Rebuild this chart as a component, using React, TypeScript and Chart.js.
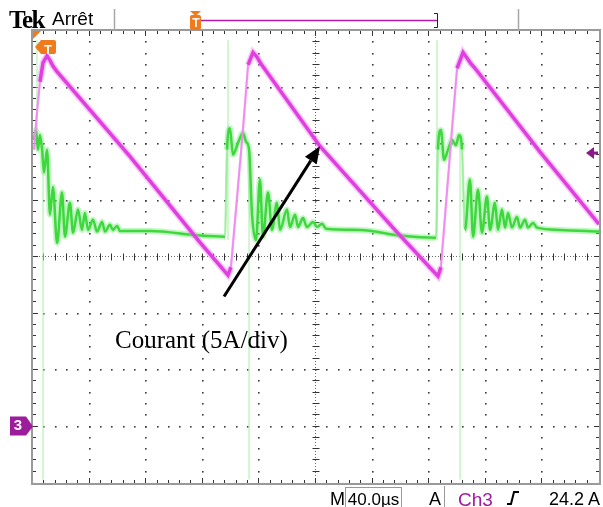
import React, { useEffect, useRef } from "react";
import { Chart, registerables } from "chart.js";
Chart.register(...registerables);

// ---- Scope settings ----
const timePerDivUs = 40;
const xDivisions = 10;
const yDivisions = 8;
const ampsPerDiv = 5;
const ch3GroundDiv = -3;
const triggerLevelA = 24.2;

// ---- Ch3 : current (A) ----
const currentTimeUs = [0.7, 2.8, 4.9, 7.1, 9.9, 12.0, 14.1, 17.0, 68.5, 118.0, 137.8, 139.9, 148.4, 152.0, 155.5, 158.3, 161.1, 164.0, 202.8, 257.2, 286.2, 288.3, 296.1, 299.7, 303.9, 306.7, 309.5, 312.4, 358.3, 400];
const currentAmps = [24.5, 27.8, 30.5, 32.2, 32.8, 32.4, 31.9, 31.4, 23.9, 16.3, 13.4, 14.1, 26.3, 32.0, 33.1, 32.7, 32.1, 31.6, 24.8, 17.2, 13.3, 14.1, 26.3, 31.7, 33.1, 32.6, 32.1, 31.7, 24.3, 17.9];

// ---- Green trace : voltage (divisions) ----
const voltageTimeUs = [0.7, 2.1, 3.5, 4.9, 6.4, 7.8, 9.9, 12.0, 14.1, 17.0, 20.5, 22.6, 26.1, 28.3, 31.8, 34.6, 36.7, 38.9, 42.4, 45.2, 48.8, 50.9, 54.4, 56.5, 59.4, 61.5, 82.7, 118.0, 135.7,
  137.1, 139.2, 141.3, 144.9, 148.4, 150.5, 152.7, 154.8, 157.6, 160.4, 162.5, 166.1, 168.9, 172.4, 174.6, 179.5, 181.6, 185.2, 187.3, 190.8, 193.6, 197.9, 200.7, 204.2, 207.1, 231.1, 259.4, 284.8,
  286.2, 288.3, 290.5, 293.3, 296.1, 298.9, 301.1, 303.2, 305.3, 308.8, 311.0, 314.5, 317.3, 320.8, 323.0, 326.5, 328.6, 331.4, 333.6, 335.7, 338.5, 342.0, 344.2, 347.7, 349.8, 353.4, 356.2, 372.4, 400];
const voltageDiv = [2.07, 2.25, 1.90, 2.16, 1.90, 1.50, 1.90, 0.75, 1.24, 0.25, 1.14, 0.36, 0.96, 0.43, 0.84, 0.48, 0.78, 0.48, 0.66, 0.45, 0.62, 0.45, 0.57, 0.48, 0.55, 0.46, 0.46, 0.38, 0.36,
  1.90, 2.28, 1.81, 2.02, 2.20, 2.04, 1.90, 0.75, 0.30, 1.37, 0.36, 1.14, 0.48, 0.96, 0.48, 0.84, 0.53, 0.75, 0.53, 0.69, 0.53, 0.62, 0.53, 0.59, 0.50, 0.48, 0.38, 0.34,
  1.90, 2.25, 1.72, 1.90, 2.07, 1.98, 2.16, 1.90, 0.48, 1.37, 0.36, 1.19, 0.43, 1.07, 0.48, 0.96, 0.48, 0.84, 0.52, 0.78, 0.52, 0.71, 0.52, 0.66, 0.52, 0.60, 0.52, 0.48, 0.45];

// faint switching spikes (null = break)
const spikeTimeUs = [2.8, 2.8, 2.8, 7.1, 7.1, 7.1, 137.8, 137.8, 137.8, 152.7, 152.7, 152.7, 285.5, 285.5, 285.5, 301.8, 301.8];
const spikeDiv = [3.84, 1.9, null, 1.98, -3.94, null, 3.84, 0.3, null, 1.9, -3.94, null, 3.84, 0.3, null, 1.9, -3.94];

// annotation arrow (tail -> tip) in data units (µs, A)
const arrowTimeUs = [135, 202.8];
const arrowAmps = [11.5, 24.8];

const ORANGE = "#f07a1c";
const PURPLE = "#9c1c9c";

const zip = (xs: number[], ys: (number | null)[]) => xs.map((x, i) => ({ x, y: ys[i] }));

const scopePlugin = {
  id: "scope",
  beforeDatasetsDraw(chart: any) {
    const { ctx, chartArea: a, scales } = chart;
    const x = scales.x;
    const yd = scales.yd;
    ctx.save();
    const minors = yDivisions * 5;
    const xMinors = xDivisions * 5;
    ctx.fillStyle = "#3a3a3a";
    for (let i = 1; i < xDivisions; i++) {
      if (i === xDivisions / 2) continue;
      const px = Math.round(x.getPixelForValue(i * timePerDivUs));
      for (let k = 1; k < minors; k++) {
        const py = Math.round(yd.getPixelForValue(-yDivisions / 2 + k * 0.2));
        ctx.fillRect(px - 1, py - 1, 1.6, 1.6);
      }
    }
    for (let j = 1; j < yDivisions; j++) {
      if (j === yDivisions / 2) continue;
      const py = Math.round(yd.getPixelForValue(-yDivisions / 2 + j));
      for (let k = 1; k < xMinors; k++) {
        const px = Math.round(x.getPixelForValue(k * timePerDivUs / 5));
        ctx.fillRect(px - 1, py - 1, 1.6, 1.6);
      }
    }
    const cx = Math.round(x.getPixelForValue((xDivisions / 2) * timePerDivUs)) - 0.5;
    const cy = Math.round(yd.getPixelForValue(0)) - 0.5;
    ctx.strokeStyle = "#6a6a6a";
    ctx.lineWidth = 1;
    ctx.setLineDash([1, 2]);
    ctx.beginPath();
    ctx.moveTo(cx, a.top); ctx.lineTo(cx, a.bottom);
    ctx.moveTo(a.left, cy); ctx.lineTo(a.right, cy);
    ctx.stroke();
    ctx.setLineDash([]);
    ctx.strokeStyle = "#333";
    ctx.beginPath();
    for (let k = 1; k < minors; k++) {
      const py = Math.round(yd.getPixelForValue(-yDivisions / 2 + k * 0.2)) - 0.5;
      ctx.moveTo(cx - 3, py); ctx.lineTo(cx + 4, py);
      const len = k % 5 === 0 ? 5 : 3;
      ctx.moveTo(a.left, py); ctx.lineTo(a.left + len, py);
      ctx.moveTo(a.right, py); ctx.lineTo(a.right - len, py);
    }
    for (let k = 1; k < xMinors; k++) {
      const px = Math.round(x.getPixelForValue(k * timePerDivUs / 5)) - 0.5;
      ctx.moveTo(px, cy - 3); ctx.lineTo(px, cy + 4);
      const len = k % 5 === 0 ? 5 : 3;
      ctx.moveTo(px, a.top); ctx.lineTo(px, a.top + len);
      ctx.moveTo(px, a.bottom); ctx.lineTo(px, a.bottom - len);
    }
    ctx.stroke();
    ctx.strokeStyle = "#9a9a9a";
    ctx.lineWidth = 2;
    ctx.strokeRect(a.left - 1, a.top - 1, a.right - a.left + 2, a.bottom - a.top + 2);
    ctx.restore();
  },
  afterDatasetsDraw(chart: any) {
    const { ctx, chartArea: a, scales } = chart;
    const x = scales.x;
    const ya = scales.ya;
    ctx.save();
    const x0 = x.getPixelForValue(arrowTimeUs[0]);
    const y0 = ya.getPixelForValue(arrowAmps[0]);
    const x1 = x.getPixelForValue(arrowTimeUs[1]);
    const y1 = ya.getPixelForValue(arrowAmps[1]);
    const ang = Math.atan2(y1 - y0, x1 - x0);
    const hl = 17, hw = 7;
    const bx = x1 - hl * Math.cos(ang), by = y1 - hl * Math.sin(ang);
    ctx.strokeStyle = "#000";
    ctx.fillStyle = "#000";
    ctx.lineWidth = 3;
    ctx.beginPath();
    ctx.moveTo(x0, y0); ctx.lineTo(bx, by); ctx.stroke();
    ctx.beginPath();
    ctx.moveTo(x1, y1);
    ctx.lineTo(bx + hw * Math.sin(ang), by - hw * Math.cos(ang));
    ctx.lineTo(bx - hw * Math.sin(ang), by + hw * Math.cos(ang));
    ctx.closePath(); ctx.fill();

    ctx.fillStyle = ORANGE;
    ctx.beginPath();
    ctx.moveTo(a.left, a.top); ctx.lineTo(a.left + 8, a.top); ctx.lineTo(a.left, a.top + 8); ctx.closePath(); ctx.fill();
    ctx.beginPath();
    ctx.moveTo(a.left + 2, a.top + 16);
    ctx.lineTo(a.left + 8, a.top + 9);
    ctx.lineTo(a.left + 21, a.top + 9);
    ctx.quadraticCurveTo(a.left + 23, a.top + 9, a.left + 23, a.top + 11);
    ctx.lineTo(a.left + 23, a.top + 21);
    ctx.quadraticCurveTo(a.left + 23, a.top + 23, a.left + 21, a.top + 23);
    ctx.lineTo(a.left + 8, a.top + 23);
    ctx.closePath(); ctx.fill();

    const gy = ya.getPixelForValue(0);
    ctx.fillStyle = PURPLE;
    ctx.beginPath();
    ctx.moveTo(10, gy - 10); ctx.lineTo(26, gy - 10); ctx.lineTo(a.left, gy); ctx.lineTo(26, gy + 9); ctx.lineTo(10, gy + 9); ctx.closePath(); ctx.fill();
    const ty = ya.getPixelForValue(triggerLevelA);
    ctx.fillStyle = "#8a1a8a";
    ctx.beginPath();
    ctx.moveTo(a.right - 13, ty); ctx.lineTo(a.right - 5, ty - 6); ctx.lineTo(a.right - 5, ty + 6); ctx.closePath(); ctx.fill();
    ctx.fillRect(a.right - 6, ty - 1.5, 5, 3);

    ctx.strokeStyle = "#a8a8a8";
    ctx.lineWidth = 1.5;
    ctx.beginPath();
    ctx.moveTo(114.5, 9); ctx.lineTo(114.5, a.top);
    ctx.moveTo(518.5, 9); ctx.lineTo(518.5, a.top);
    ctx.stroke();
    ctx.strokeStyle = "#b01ab0";
    ctx.lineWidth = 1.5;
    ctx.beginPath(); ctx.moveTo(198, 20.5); ctx.lineTo(437, 20.5); ctx.stroke();
    ctx.strokeStyle = "#222";
    ctx.lineWidth = 1;
    ctx.beginPath();
    ctx.moveTo(434, 13.5); ctx.lineTo(437.5, 13.5); ctx.lineTo(437.5, 27.5); ctx.lineTo(434, 27.5);
    ctx.stroke();
    ctx.fillStyle = ORANGE;
    ctx.beginPath();
    ctx.moveTo(190, 11); ctx.lineTo(201, 11); ctx.lineTo(195.5, 16); ctx.closePath(); ctx.fill();
    ctx.beginPath();
    ctx.moveTo(192, 15); ctx.lineTo(199, 15); ctx.quadraticCurveTo(201, 15, 201, 17); ctx.lineTo(201, 28);
    ctx.quadraticCurveTo(201, 30, 199, 30); ctx.lineTo(192, 30); ctx.quadraticCurveTo(190, 30, 190, 28); ctx.lineTo(190, 17);
    ctx.quadraticCurveTo(190, 15, 192, 15); ctx.closePath(); ctx.fill();
    ctx.restore();
  },
};

function steep(c: any, lim: number) {
  const dy = Math.abs(c.p1.y - c.p0.y);
  const dx = Math.abs(c.p1.x - c.p0.x);
  return dy > lim && dy > 3 * dx;
}

export default function App() {
  const ref = useRef<HTMLCanvasElement | null>(null);
  useEffect(() => {
    document.body.style.margin = "0";
    const cur = zip(currentTimeUs, currentAmps);
    const volt = zip(voltageTimeUs, voltageDiv);
    const spikes = zip(spikeTimeUs, spikeDiv);
    const chart = new Chart(ref.current as HTMLCanvasElement, {
      type: "line",
      data: {
        datasets: [
          {
            data: cur, yAxisID: "ya", borderColor: "#e03fe0", borderWidth: 3.5, pointRadius: 0, tension: 0,
            segment: {
              borderColor: (c: any) => (steep(c, 25) ? "#f08cf0" : "#e03fe0"),
              borderWidth: (c: any) => (steep(c, 25) ? 1.8 : 3.5),
            },
          },
          {
            data: cur, yAxisID: "ya", borderColor: "rgba(240,130,240,0.45)", borderWidth: 6.5, pointRadius: 0, tension: 0,
            segment: { borderWidth: (c: any) => (steep(c, 25) ? 2.5 : 6.5) },
          },
          {
            data: volt, yAxisID: "yd", borderColor: "#3ed83e", borderWidth: 2.5, pointRadius: 0, cubicInterpolationMode: "monotone",
            segment: {
              borderColor: (c: any) => (steep(c, 70) ? "rgba(150,235,150,0.8)" : "#3ed83e"),
              borderWidth: (c: any) => (steep(c, 70) ? 1.5 : 2.5),
            },
          },
          {
            data: volt, yAxisID: "yd", borderColor: "rgba(120,235,120,0.45)", borderWidth: 6, pointRadius: 0, cubicInterpolationMode: "monotone",
            segment: { borderWidth: (c: any) => (steep(c, 70) ? 2.5 : 6) },
          },
          {
            data: spikes, yAxisID: "yd", borderColor: "rgba(170,240,170,0.7)", borderWidth: 1.5, pointRadius: 0, tension: 0, spanGaps: false,
          },
        ],
      },
      options: {
        animation: false,
        responsive: false,
        maintainAspectRatio: false,
        events: [],
        layout: { padding: { left: 33, right: 4, top: 31, bottom: 24 } },
        plugins: { legend: { display: false }, tooltip: { enabled: false } },
        scales: {
          x: { type: "linear", display: false, min: 0, max: xDivisions * timePerDivUs },
          ya: { type: "linear", display: false, min: (-yDivisions / 2 - ch3GroundDiv) * ampsPerDiv, max: (yDivisions / 2 - ch3GroundDiv) * ampsPerDiv },
          yd: { type: "linear", display: false, min: -yDivisions / 2, max: yDivisions / 2 },
        },
      },
      plugins: [scopePlugin],
    });
    return () => chart.destroy();
  }, []);

  const sans = "'Liberation Sans', Arial, sans-serif";
  const abs = (s: React.CSSProperties): React.CSSProperties => ({ position: "absolute", whiteSpace: "nowrap", lineHeight: 1, ...s });

  return (
    <div style={{ position: "relative", width: 603, height: 507, background: "#fff", overflow: "hidden" }}>
      <canvas ref={ref} width={603} height={507} style={{ position: "absolute", left: 0, top: 0, width: 603, height: 507 }} />
      <span style={abs({ left: 9, top: 6, font: "bold 25px 'Liberation Serif', serif", letterSpacing: -1.5 })}>Tek</span>
      <span style={abs({ left: 52, top: 8, font: `19px ${sans}` })}>Arrêt</span>
      <span style={abs({ left: 191, top: 16, width: 10, textAlign: "center", font: `bold 12px ${sans}`, color: "#fff" })}>T</span>
      <span style={abs({ left: 42, top: 42, width: 12, textAlign: "center", font: `bold 13px ${sans}`, color: "#fff" })}>T</span>
      <span style={abs({ left: 11, top: 416, width: 14, textAlign: "center", font: `bold 15px ${sans}`, color: "#fff" })}>3</span>
      <span style={abs({ left: 115, top: 326, font: "25px 'Liberation Serif', 'Times New Roman', serif" })}>Courant (5A/div)</span>
      <span style={abs({ left: 330, top: 489, font: `18px ${sans}` })}>M</span>
      <span style={abs({ left: 345, top: 487, width: 55, height: 18, border: "1px solid #999", font: `17px ${sans}`, paddingTop: 2, textAlign: "center" })}>40.0µs</span>
      <span style={abs({ left: 429, top: 489, font: `18px ${sans}` })}>A</span>
      <div style={{ position: "absolute", left: 444, top: 486, width: 1, height: 21, background: "#999" }} />
      <span style={abs({ left: 458, top: 489, font: `19px ${sans}`, color: "#a01ca0" })}>Ch3</span>
      <svg style={{ position: "absolute", left: 506, top: 490 }} width="14" height="16">
        <path d="M1 14 L5 14 L8 2 L13 2" stroke="#000" strokeWidth="2" fill="none" />
      </svg>
      <span style={abs({ left: 530, top: 489, width: 70, textAlign: "right", font: `18px ${sans}` })}>24.2 A</span>
    </div>
  );
}
